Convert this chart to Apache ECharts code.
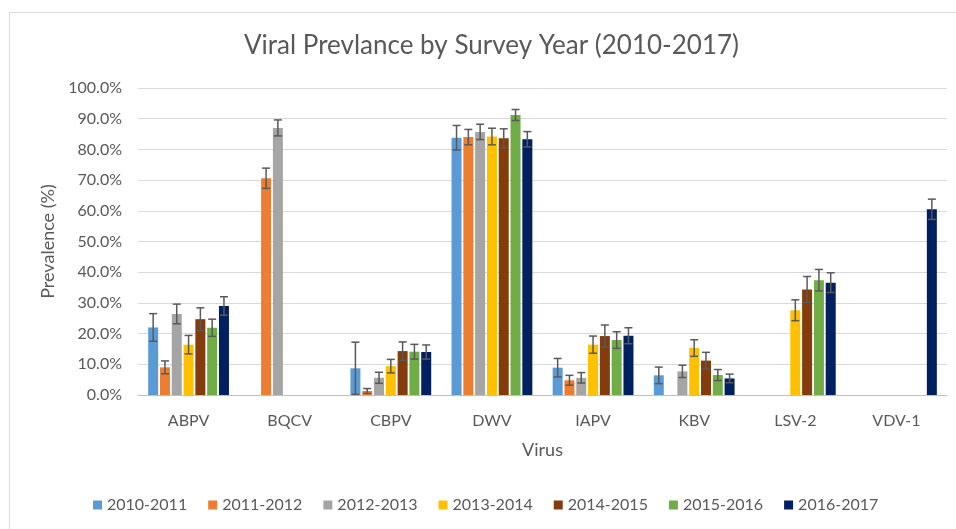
<!DOCTYPE html>
<html>
<head>
<meta charset="utf-8">
<script src="https://cdn.jsdelivr.net/npm/echarts@6/dist/echarts.min.js"></script>
<style>
  html, body { margin: 0; padding: 0; background: #fff; }
  #chart { width: 956px; height: 529px; }
</style>
</head>
<body>
<div id="chart"></div>
<script>
// virus categories and survey years
var viruses = ['ABPV', 'BQCV', 'CBPV', 'DWV', 'IAPV', 'KBV', 'LSV-2', 'VDV-1']
var years = ['2010-2011', '2011-2012', '2012-2013', '2013-2014', '2014-2015', '2015-2016', '2016-2017']

// prevalence (%) per year, one value per virus (null = no bar)
var prev2010 = [22.0, null, 8.7, 83.8, 8.9, 6.4, null, null]
var prev2011 = [9.0, 70.6, 1.3, 84.0, 4.8, null, null, null]
var prev2012 = [26.4, 87.0, 5.6, 85.7, 5.6, 7.7, null, null]
var prev2013 = [16.4, null, 9.4, 84.2, 16.4, 15.3, 27.6, null]
var prev2014 = [24.7, null, 14.3, 83.6, 19.2, 11.2, 34.4, null]
var prev2015 = [21.9, null, 14.1, 91.2, 17.9, 6.5, 37.4, null]
var prev2016 = [29.0, null, 14.0, 83.3, 19.3, 5.4, 36.6, 60.5]

// error bar half-widths (%)
var err2010 = [4.5, null, 8.5, 4.0, 3.0, 2.7, null, null]
var err2011 = [2.1, 3.3, 0.8, 2.5, 1.6, null, null, null]
var err2012 = [3.2, 2.6, 1.8, 2.5, 1.7, 2.0, null, null]
var err2013 = [3.0, null, 2.2, 2.7, 2.8, 2.7, 3.4, null]
var err2014 = [3.7, null, 3.0, 3.1, 3.6, 2.7, 4.2, null]
var err2015 = [2.8, null, 2.4, 1.8, 2.7, 1.8, 3.5, null]
var err2016 = [3.0, null, 2.3, 2.5, 2.6, 1.4, 3.2, 3.3]

// y axis ticks
var yMin = 0
var yMax = 100
var yStep = 10

var values = [prev2010, prev2011, prev2012, prev2013, prev2014, prev2015, prev2016]
var errors = [err2010, err2011, err2012, err2013, err2014, err2015, err2016]
var colors = ['#5B9BD5', '#ED7D31', '#A5A5A5', '#FFC000', '#843C0C', '#70AD47', '#002060']

var BAR_W = 10
var BAR_GAP = 0.18
var STEP = BAR_W * (1 + BAR_GAP)
var FONT = 'Lato, "Open Sans", sans-serif'

function errRender(idx) {
  return function (params, api) {
    var cat = api.value(0)
    var lo = api.coord([cat, api.value(1)])
    var hi = api.coord([cat, api.value(2)])
    var x = lo[0] + (idx - (years.length - 1) / 2) * STEP
    var st = { stroke: '#595959', lineWidth: 1.5 }
    return {
      type: 'group',
      children: [
        { type: 'line', shape: { x1: x, y1: lo[1], x2: x, y2: hi[1] }, style: st },
        { type: 'line', shape: { x1: x - 4, y1: lo[1], x2: x + 4, y2: lo[1] }, style: st },
        { type: 'line', shape: { x1: x - 4, y1: hi[1], x2: x + 4, y2: hi[1] }, style: st }
      ]
    }
  }
}

var series = []
years.forEach(function (y, i) {
  series.push({
    name: y,
    type: 'bar',
    barWidth: BAR_W,
    barGap: (BAR_GAP * 100) + '%',
    itemStyle: { color: colors[i] },
    data: values[i].map(function (v) { return v === null ? '-' : v })
  })
})
years.forEach(function (y, i) {
  var d = []
  values[i].forEach(function (v, k) {
    if (v !== null && errors[i][k] !== null) d.push([k, Math.max(0, v - errors[i][k]), v + errors[i][k]])
  })
  series.push({
    name: y + ' err',
    type: 'custom',
    renderItem: errRender(i),
    data: d,
    z: 5
  })
})

var chart = echarts.init(document.getElementById('chart'))
chart.setOption({
  animation: false,
  textStyle: { fontFamily: FONT },
  title: {
    text: 'Viral Prevlance by Survey Year (2010-2017)',
    left: 239,
    top: 28,
    textStyle: { fontFamily: FONT, fontSize: 26, fontWeight: 'normal', color: '#595959' }
  },
  graphic: [{
    type: 'rect',
    shape: { x: 9.5, y: 12.5, width: 960, height: 540 },
    style: { fill: 'none', stroke: '#d9d9d9', lineWidth: 1 },
    silent: true
  }],
  legend: {
    data: years,
    bottom: 11,
    left: 88,
    itemWidth: 9,
    itemHeight: 9,
    itemGap: 21,
    icon: 'rect',
    textStyle: { fontFamily: FONT, fontSize: 16, color: '#595959' }
  },
  grid: { left: 138, right: 9, top: 88, bottom: 134 },
  xAxis: {
    type: 'category',
    data: viruses,
    name: 'Virus',
    nameLocation: 'middle',
    nameGap: 46,
    nameTextStyle: { fontSize: 18, color: '#595959' },
    axisLine: { lineStyle: { color: '#bfbfbf' } },
    axisTick: { show: false },
    axisLabel: { fontSize: 16, color: '#595959', margin: 18 }
  },
  yAxis: {
    type: 'value',
    min: yMin,
    max: yMax,
    interval: yStep,
    name: 'Prevalence (%)',
    nameLocation: 'middle',
    nameGap: 80,
    nameTextStyle: { fontSize: 18, color: '#595959' },
    axisLine: { show: false },
    axisTick: { show: false },
    axisLabel: {
      fontSize: 16,
      color: '#595959',
      margin: 16,
      formatter: function (v) { return v.toFixed(1) + '%' }
    },
    splitLine: { lineStyle: { color: '#d9d9d9' } }
  },
  series: series
})
</script>
</body>
</html>
